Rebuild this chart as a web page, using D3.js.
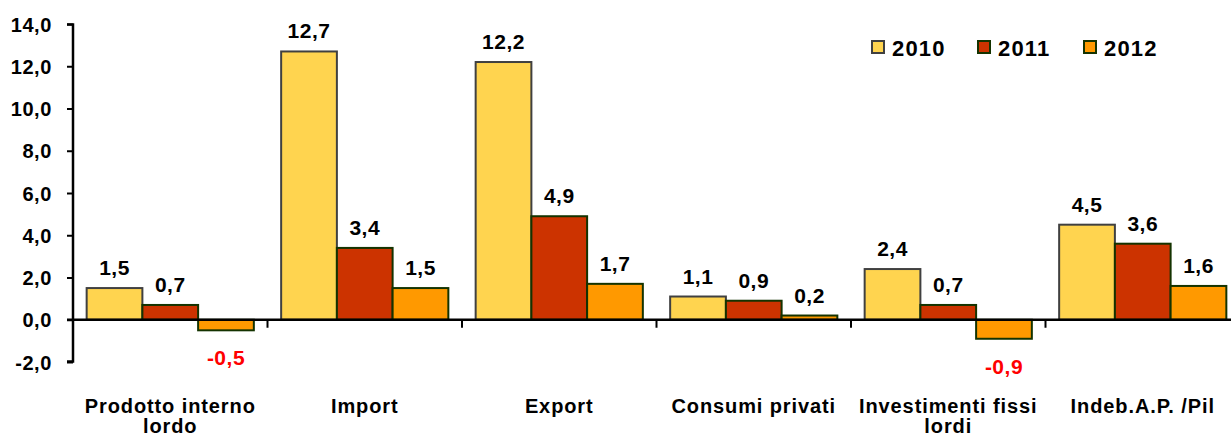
<!DOCTYPE html>
<html><head><meta charset="utf-8">
<script src="https://cdn.jsdelivr.net/npm/d3@7/dist/d3.min.js"></script>
<style>html,body{margin:0;padding:0;background:#fff;overflow:hidden}svg{display:block}text{font-family:Arial,"Liberation Sans",sans-serif;font-weight:bold}</style>
</head><body><svg id="c" width="1231" height="437"></svg>
<script>
const categories = ["Prodotto interno|lordo","Import","Export","Consumi privati","Investimenti fissi|lordi","Indeb.A.P. /Pil"];
const years = ["2010","2011","2012"];
const v2010 = [1.5,12.7,12.2,1.1,2.4,4.5];
const v2011 = [0.7,3.4,4.9,0.9,0.7,3.6];
const v2012 = [-0.5,1.5,1.7,0.2,-0.9,1.6];
const yTicks = [-2,0,2,4,6,8,10,12,14];
const series = [v2010,v2011,v2012];
const fills = ["#FFD44F","#CC3300","#FF9900"];
const strokes = ["#404040","#143300","#143300"];

const svg = d3.select("#c");
const y = d3.scaleLinear().domain([-2,14]).range([362,24]);
const x0 = d3.scaleBand().domain(categories).range([73,1240]).padding(0);
const x1 = d3.scaleBand().domain(years).range([0,x0.bandwidth()]).paddingInner(0).paddingOuter(0.245);
const loc = d3.formatLocale({decimal:",",thousands:".",grouping:[3],currency:["","€"],minus:"-"});
const fmt = loc.format(".1f");

// bars
years.forEach((yr,si)=>{
  const g = svg.append("g");
  categories.forEach((c,ci)=>{
    const v = series[si][ci];
    g.append("rect")
      .attr("x", x0(c)+x1(yr))
      .attr("y", y(Math.max(0,v)))
      .attr("width", x1.bandwidth())
      .attr("height", Math.abs(y(v)-y(0)))
      .attr("fill", fills[si]).attr("stroke", strokes[si]).attr("stroke-width",2);
  });
});

// y axis
const yAxis = d3.axisLeft(y).tickValues(yTicks).tickSize(6).tickPadding(15).tickFormat(fmt);
const ga = svg.append("g").attr("transform","translate(73,0)").call(yAxis);
ga.select(".domain").attr("stroke","#000").attr("stroke-width",2.5).attr("d","M-6,24.5H0V361.5H-6");
ga.selectAll(".tick line").attr("stroke","#000").attr("stroke-width",2);
ga.selectAll(".tick text").attr("font-size",20).attr("letter-spacing",0.6).attr("fill","#000")
  .attr("font-family","Arial, 'Liberation Sans', sans-serif").attr("font-weight","bold").attr("dy","0.35em");

// x axis at zero
svg.append("line").attr("x1",67).attr("x2",1240).attr("y1",y(0)).attr("y2",y(0)).attr("stroke","#000").attr("stroke-width",2.5);
categories.slice(1).forEach(c=>{
  svg.append("line").attr("x1",x0(c)).attr("x2",x0(c)).attr("y1",y(0)).attr("y2",y(0)+8).attr("stroke","#000").attr("stroke-width",2);
});

// value labels
years.forEach((yr,si)=>{
  categories.forEach((c,ci)=>{
    const v = series[si][ci];
    svg.append("text")
      .attr("x", x0(c)+x1(yr)+x1.bandwidth()/2)
      .attr("y", v>=0 ? y(v)-13 : y(v)+35)
      .attr("text-anchor","middle").attr("font-size",21).attr("letter-spacing",0.5)
      .attr("fill", v<0 ? "#FF0000" : "#000")
      .text(fmt(v));
  });
});

// category labels
categories.forEach(c=>{
  const lines = c.split("|");
  const cx = x0(c)+x0.bandwidth()/2;
  const t = svg.append("text").attr("x", cx).attr("y",413)
    .attr("text-anchor","middle").attr("font-size",20).attr("letter-spacing",0.9).attr("fill","#000");
  lines.forEach((l,i)=>t.append("tspan").attr("x", cx).attr("dy", i===0?0:20).text(l));
});

// legend
const legX = [872,978,1084];
years.forEach((yr,i)=>{
  svg.append("rect").attr("x",legX[i]).attr("y",41).attr("width",12).attr("height",12)
    .attr("fill",fills[i]).attr("stroke",strokes[i]).attr("stroke-width",2);
  svg.append("text").attr("x",legX[i]+20).attr("y",56).attr("font-size",22).attr("letter-spacing",1.2).attr("fill","#000").text(yr);
});
</script></body></html>
